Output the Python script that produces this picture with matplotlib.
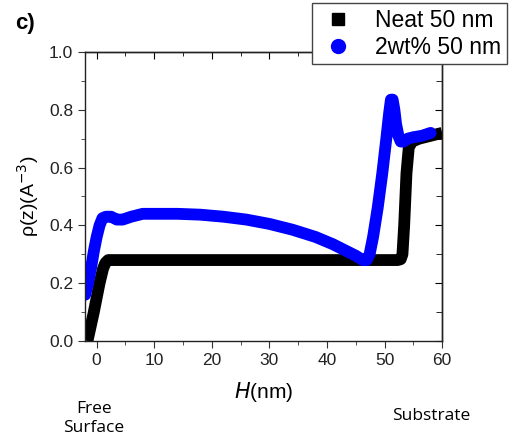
import matplotlib.pyplot as plt
from matplotlib.lines import Line2D

# neat film profile
neat_h = [-1.6, -0.5, 0.5, 1.1, 1.5, 2.0, 3, 10, 20, 30, 40, 50, 52.3, 52.8, 53.1, 53.4, 53.8, 54.2, 54.8, 56, 58, 60]
neat_rho = [0.0, 0.10, 0.20, 0.25, 0.27, 0.28, 0.28, 0.28, 0.28, 0.28, 0.28, 0.28, 0.28, 0.283, 0.30, 0.40, 0.58, 0.67, 0.69, 0.70, 0.71, 0.72]

# 2wt% film profile
comp_h = [-2.0, -1.5, -1.0, -0.5, 0.0, 0.5, 1.0, 1.6, 2.5, 3.5, 4.5, 6, 8, 10, 14, 18, 22, 26, 30, 34, 38, 41, 43, 45, 46.2,
          46.9, 47.4, 48.0, 48.8, 49.6, 50.3, 50.8, 51.1, 51.4, 51.7, 52.0, 52.4, 52.8, 53.3, 54, 55, 56.5, 58]
comp_rho = [0.16, 0.20, 0.25, 0.31, 0.36, 0.40, 0.425, 0.43, 0.43, 0.42, 0.42, 0.43, 0.44, 0.44, 0.44, 0.437, 0.43, 0.42, 0.405, 0.385, 0.36, 0.335, 0.315, 0.295, 0.28,
            0.28, 0.30, 0.36, 0.46, 0.58, 0.70, 0.79, 0.835, 0.835, 0.80, 0.75, 0.71, 0.69, 0.69, 0.70, 0.705, 0.71, 0.72]

fig = plt.figure(figsize=(5.1, 4.44), dpi=100)
ax = fig.add_axes([0.167, 0.232, 0.7, 0.651])

ax.plot(neat_h, neat_rho, color='black', lw=8.5, solid_joinstyle='round', solid_capstyle='butt')
ax.plot(comp_h, comp_rho, color='#0000ff', lw=8.5, solid_joinstyle='round', solid_capstyle='round')

ax.set_xlim(-2, 60)
ax.set_ylim(0, 1.0)
ax.set_xticks([0, 10, 20, 30, 40, 50, 60])
ax.set_xticks(range(0, 61, 5), minor=True)
ax.set_yticks([0.0, 0.2, 0.4, 0.6, 0.8, 1.0])
ax.set_yticks([0.1, 0.3, 0.5, 0.7, 0.9], minor=True)
ax.tick_params(which='both', direction='out', top=False, right=False, labelsize=12.5,
               colors='#333333', labelcolor='#222222')
ax.tick_params(which='major', length=5)
ax.tick_params(which='minor', length=3)
# mirrored inward ticks on top/right
axt = ax.secondary_xaxis('top')
axt.set_xticks([0, 10, 20, 30, 40, 50, 60])
axt.set_xticks(range(0, 61, 5), minor=True)
axt.tick_params(which='both', direction='in', labeltop=False)
axt.tick_params(which='major', length=5)
axt.tick_params(which='minor', length=3)
axr = ax.secondary_yaxis('right')
axr.set_yticks([0.0, 0.2, 0.4, 0.6, 0.8, 1.0])
axr.set_yticks([0.1, 0.3, 0.5, 0.7, 0.9], minor=True)
axr.tick_params(which='both', direction='in', labelright=False)
axr.tick_params(which='major', length=5)
axr.tick_params(which='minor', length=4)
for a in (ax, axt, axr):
    for s in a.spines.values():
        s.set_linewidth(1.0)
        s.set_color('#222222')

for lab in ax.get_xticklabels() + ax.get_yticklabels():
    lab.set_family('Liberation Sans')

ax.set_xlabel('$\\mathit{H}$(nm)', fontsize=15, family='Liberation Sans', labelpad=9)
ax.set_ylabel('ρ(z)(A$^{-3}$)', fontsize=14, family='Liberation Sans', labelpad=6)

handles = [Line2D([], [], ls='none', marker='s', color='black', ms=8),
           Line2D([], [], ls='none', marker='o', color='#0000ff', ms=10)]
fig.legend(handles, ['Neat 50 nm', '2wt% 50 nm'], loc='upper right', bbox_to_anchor=(1.0, 1.0),
           prop={'family': 'Liberation Sans', 'size': 16.5}, frameon=True, fancybox=False,
           edgecolor='#444444', framealpha=1, borderpad=0.25, handletextpad=0.7, labelspacing=0.15,
           borderaxespad=0.15, handlelength=1.8)

fig.text(0.03, 0.935, 'c)', fontsize=16, fontweight='bold', family='Liberation Sans')
fig.text(0.184, 0.058, 'Free\nSurface', fontsize=12.5, family='Open Sans', ha='center', va='center', linespacing=1.25)
fig.text(0.845, 0.063, 'Substrate', fontsize=12.5, family='Open Sans', ha='center', va='center')

fig.savefig('out.png', dpi=100)
